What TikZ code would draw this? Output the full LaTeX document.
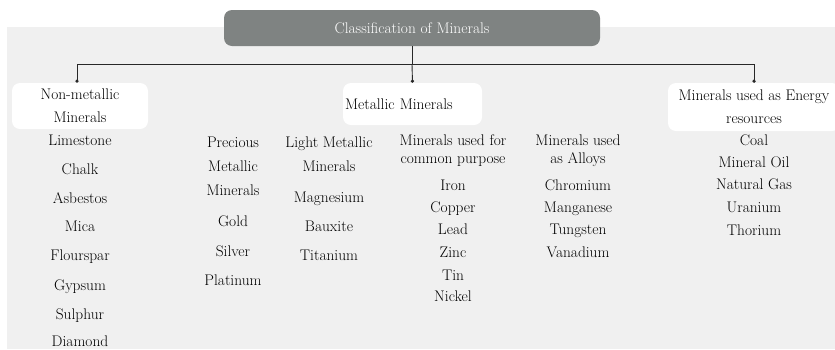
\documentclass[tikz,border=0pt]{standalone}
\usetikzlibrary{arrows.meta}
\definecolor{panelgrey}{RGB}{240,240,240}
\definecolor{titlegrey}{RGB}{127,131,130}
\definecolor{linegrey}{RGB}{40,40,40}
\definecolor{textblack}{RGB}{0,0,0}

\begin{document}
\begin{tikzpicture}[
    x=1pt, y=-1pt,
    box/.style={fill=white, rounded corners=8pt, inner sep=0pt, align=center, text=textblack, font=\fontsize{15.4}{23}\selectfont},
    item/.style={font=\fontsize{15.4}{19}\selectfont, text=textblack, inner sep=0pt, text height=11pt, text depth=3.5pt},
    head/.style={font=\fontsize{15.4}{24}\selectfont, text=textblack, inner sep=0pt, align=center},
    headtight/.style={head, font=\fontsize{15.4}{18}\selectfont},
    conn/.style={-{Circle[length=3.2pt]}, linegrey, line width=0.9pt}
]
    \useasboundingbox (0,0) rectangle (835,349);
    % --- background panel ---
    \fill[panelgrey] (7,27) rectangle (835,349);

    % --- top level and the three groups ---
    \node[box, fill=titlegrey, text=white, minimum width=376pt, minimum height=36pt] (title) at (412,28) {Classification of Minerals};
    \node[box, minimum width=136pt, minimum height=46pt] (nonmet) at (80,106) {Non-metallic\\Minerals};
    \node[box, minimum width=139pt, minimum height=42pt, text width=135pt, align=left] (metal) at (412.5,104) {Metallic Minerals};
    \node[box, minimum width=172pt, minimum height=48pt] (energy) at (754,107) {Minerals used as Energy\\resources};

    % --- connectors ---
    \coordinate (bus) at (412,64);
    \draw[conn] (title.south) -- (bus) -| ([xshift=-3pt]nonmet.north);
    \draw[conn] (bus) -| (energy.north);
    \draw[conn] (bus) -- (metal.north);

    % --- non-metallic list ---
    \foreach \txt/\y [count=\i] in {Limestone/142, Chalk/171, Asbestos/200, Mica/228, Flourspar/257, Gypsum/287, Sulphur/316, Diamond/343}
        \node[item] (nm\i) at (80,\y) {\txt};

    % --- metallic sub-groups ---
    \node[head] (prec) at (233,166) {Precious\\Metallic\\Minerals};
    \foreach \txt/\y [count=\i] in {Gold/223, Silver/253, Platinum/282}
        \node[item] (pr\i) at (233,\y) {\txt};

    \node[head] (light) at (329,154) {Light Metallic\\Minerals};
    \foreach \txt/\y [count=\i] in {Magnesium/199, Bauxite/228, Titanium/257}
        \node[item] (lt\i) at (329,\y) {\txt};

    \node[headtight] (common) at (453,151) {Minerals used for\\common purpose};
    \foreach \txt/\y [count=\i] in {Iron/187, Copper/209, Lead/231, Zinc/254, Tin/277, Nickel/298}
        \node[item] (cm\i) at (453,\y) {\txt};

    \node[headtight] (alloy) at (578,151) {Minerals used\\as Alloys};
    \foreach \txt/\y [count=\i] in {Chromium/187, Manganese/209, Tungsten/231, Vanadium/254}
        \node[item] (al\i) at (578,\y) {\txt};

    % --- energy list ---
    \foreach \txt/\y [count=\i] in {Coal/142, Mineral Oil/164, Natural Gas/186, Uranium/209, Thorium/232}
        \node[item] (en\i) at (754,\y) {\txt};
\end{tikzpicture}
\end{document}
